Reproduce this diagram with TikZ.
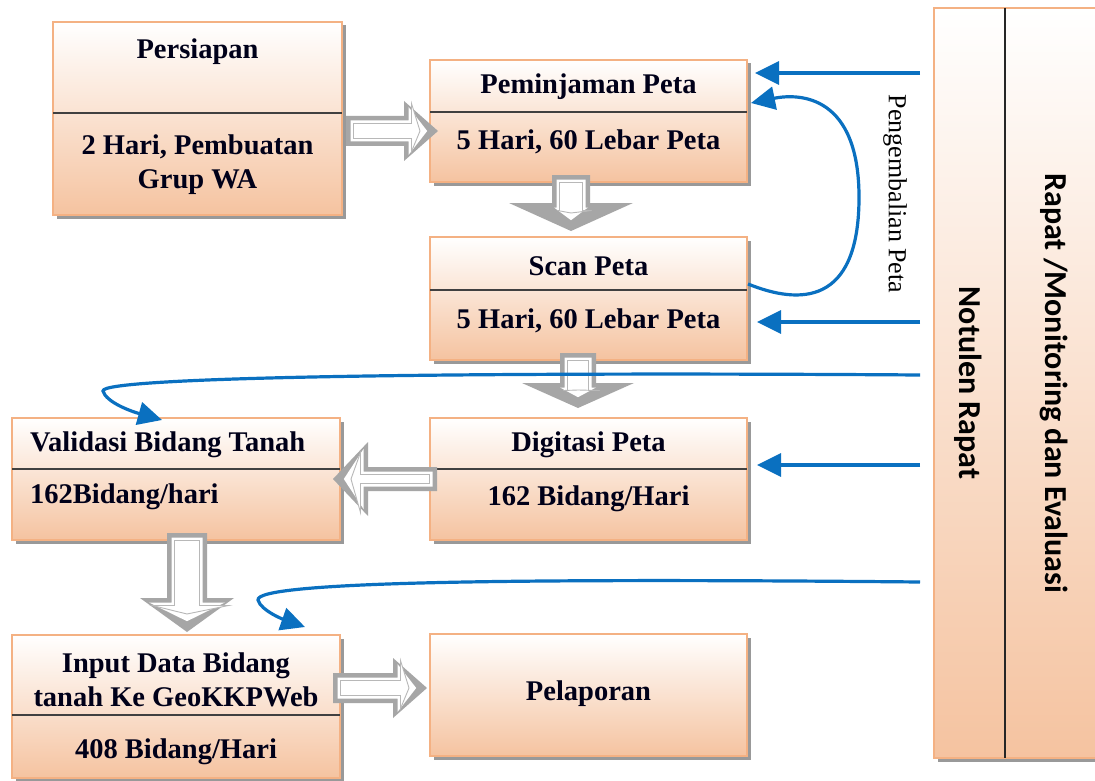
\documentclass[tikz,border=0pt]{standalone}
\usepackage{fontspec}
\setmainfont{Liberation Serif}
\newfontfamily\carlfont{Carlito}
\usetikzlibrary{arrows.meta,shadows,calc}
\definecolor{peachborder}{HTML}{F4B183}
\definecolor{peachfill}{HTML}{F5C3A0}
\definecolor{blueline}{HTML}{0A70C0}
\definecolor{blockgray}{HTML}{A6A6A6}
\tikzset{
  pbox/.style={rectangle, draw=peachborder, line width=2.5pt, top color=white, bottom color=peachfill, inner sep=0pt, outer sep=0pt,
     drop shadow={shadow xshift=3.5pt, shadow yshift=-3.5pt, fill=black!40, opacity=1}},
  btext/.style={font=\bfseries\fontsize{28.5}{34}\selectfont, align=center, inner sep=0pt, text=black!90!blue},
  divline/.style={draw=black!75, line width=1.2pt},
  blue arrow/.style={draw=blueline, line width=3.2pt, -{Triangle[length=24pt,width=23pt]}},
}
% length, shaft half, head half, head length, inset
\newcommand\bapoly[5]{(#5,-#2+#5) -- (#1-#4+#5,-#2+#5) -- (#1-#4+#5,-#3) -- (#1-2.4*#5,0) -- (#1-#4+#5,#3) -- (#1-#4+#5,#2-#5) -- (#5,#2-#5) -- cycle}
% x, y (tail centre), angle, length, shaft half, head half, head length, inner head half
\newcommand\blockarrow[8]{%
  \begin{scope}[shift={(#1,#2)},rotate=#3]
    \fill[blockgray] \bapoly{#4}{#5}{#6}{#7}{0};
    \fill[white] \bapoly{#4}{#5}{#8}{#7}{4.5};
    \draw[blockgray!80, line width=0.9pt, fill=white] \bapoly{#4}{#5}{#8-3.5}{#7}{7.5};
  \end{scope}}
\begin{document}
\begin{tikzpicture}[x=1pt,y=-1pt]
\useasboundingbox (0,0) rectangle (1095,781);
\fill[white] (0,0) rectangle (1095,781);

% right column box
\node[pbox, minimum width=170pt, minimum height=750pt] (rapat) at (1019,383) {};
\draw[black!85, line width=1.2pt] (1005,8) -- (1005,758);
\node[font=\carlfont\bfseries\fontsize{32}{36}\selectfont, rotate=-90, inner sep=0pt] (notulen) at (968,383) {Notulen Rapat};
\node[font=\carlfont\bfseries\fontsize{32}{36}\selectfont, rotate=-90, inner sep=0pt] (monev) at (1054,383) {Rapat /Monitoring dan Evaluasi};

% process boxes
\node[pbox, minimum width=289pt, minimum height=193pt] (persiapan) at (197.5,118.5) {};
\node[pbox, minimum width=317pt, minimum height=122pt] (pinjam) at (588.5,121) {};
\node[pbox, minimum width=317pt, minimum height=123pt] (scan) at (588.5,298.5) {};
\node[pbox, minimum width=317pt, minimum height=122pt] (digit) at (588.5,479) {};
\node[pbox, minimum width=328pt, minimum height=122pt] (valid) at (176,479) {};
\node[pbox, minimum width=328pt, minimum height=143pt] (input) at (176,706.5) {};
\node[pbox, minimum width=317pt, minimum height=122pt] (lapor) at (588.5,695) {};

% dividers
\draw[divline] (53,113) -- (342,113);
\draw[divline] (430,112) -- (747,112);
\draw[divline] (430,290) -- (747,290);
\draw[divline] (430,469) -- (747,469);
\draw[divline] (12,469) -- (340,469);
\draw[divline] (12,715) -- (340,715);

% texts
\node[btext] (tpersiapan) at (197.5,52) {Persiapan};
\node[btext] (bpersiapan) at (197.5,165) {2 Hari, Pembuatan\\Grup WA};
\node[btext] (tpinjam) at (588.5,87) {Peminjaman Peta};
\node[btext] (bpinjam) at (588.5,142) {5 Hari, 60 Lebar Peta};
\node[btext] (tscan) at (588.5,266) {Scan Peta};
\node[btext] (bscan) at (588.5,321) {5 Hari, 60 Lebar Peta};
\node[btext] (tdigit) at (588.5,445) {Digitasi Peta};
\node[btext] (bdigit) at (588.5,499) {162 Bidang/Hari};
\node[btext, anchor=west] (tvalid) at (30,445) {Validasi Bidang Tanah};
\node[btext, anchor=west] (bvalid) at (30,497) {162Bidang/hari};
\node[btext] (tinput) at (176,680) {Input Data Bidang\\tanah Ke GeoKKPWeb};
\node[btext] (binput) at (176,752) {408 Bidang/Hari};
\node[btext] (tlapor) at (588.5,694) {Pelaporan};

% block arrows
\blockarrow{346}{131}{0}{92}{15}{30}{34}{24}
\blockarrow{571}{175}{-90}{56}{19}{62}{28}{17}
\blockarrow{578}{353}{-90}{55}{18}{56}{25}{18}
\blockarrow{437}{479}{180}{104}{12}{37}{35}{30}
\blockarrow{187}{533}{-90}{99}{20}{47}{34}{38}
\blockarrow{333}{688}{0}{94}{15}{30}{34}{24}

% blue connectors
\coordinate (r1) at (920,73);
\coordinate (r2) at (920,322);
\coordinate (r3) at (920,465);
\coordinate (r4) at (920,375);
\coordinate (r5) at (920,582);
\coordinate (p1) at (755,73);
\coordinate (p2) at (757,322);
\coordinate (p3) at (757,465);
\coordinate (p4) at (162,420);
\coordinate (p5) at (305,627);
\coordinate (ret0) at (748,284);
\coordinate (ret1) at (751,103);
\draw[blue arrow] (r1) -- (p1);
\draw[blue arrow] (r2) -- (p2);
\draw[blue arrow] (r3) -- (p3);
\draw[blue arrow] (r4) .. controls (500,372) and (100,376) .. (103,391) .. controls (106,402) and (130,411) .. (p4);
\draw[blue arrow] (r5) .. controls (500,578) and (255,582) .. (258,600) .. controls (261,611) and (285,620) .. (p5);
\draw[blue arrow] (ret0) .. controls (800,305) and (858,305) .. (859,200) .. controls (860,95) and (800,93) .. (ret1);
\node[font=\fontsize{26}{30}\selectfont, rotate=-90, inner sep=0pt] (kembali) at (895,194) {Pengembalian Peta};
\end{tikzpicture}
\end{document}
